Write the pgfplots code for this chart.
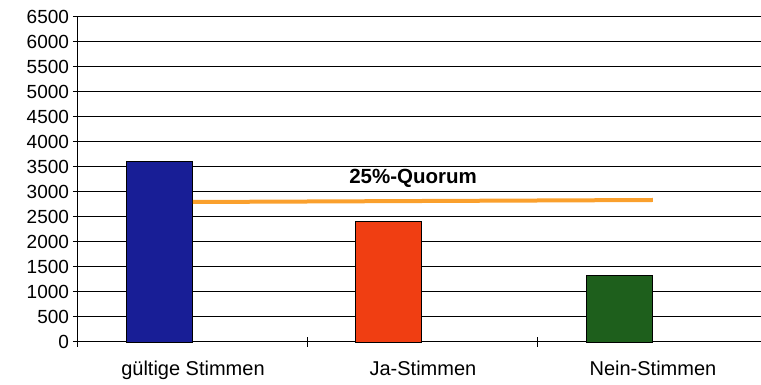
\documentclass[border=0pt]{standalone}
\usepackage{fontspec}
\setmainfont{Liberation Sans}
\usepackage{pgfplots}
\pgfplotsset{compat=1.18}
\definecolor{cblue}{RGB}{24,30,150}
\definecolor{cred}{RGB}{240,62,18}
\definecolor{cgreen}{RGB}{30,95,28}
\definecolor{corange}{RGB}{250,160,45}
\begin{document}
\begin{tikzpicture}
\begin{axis}[
  scale only axis, width=683pt, height=325pt,
  xmin=0, xmax=2.97, ymin=0, ymax=6500,
  axis x line*=bottom, axis y line*=left,
  axis line style={black, line width=1pt},
  ytick={0,500,...,6500},
  scaled y ticks=false,
  /pgf/number format/1000 sep={},
  /pgf/number format/assume math mode=true,
  ymajorgrids, grid style={black, line width=1pt},
  ytick style={black, line width=1pt},
  tick align=outside, major tick length=5pt,
  xtick={0.5,1.5,2.5},
  xticklabels={gültige Stimmen, Ja-Stimmen, Nein-Stimmen},
  x tick style={draw=none},
  extra x ticks={0,1,2},
  extra x tick labels={},
  extra x tick style={tick align=center, major tick length=10pt, x tick style={draw=black, line width=1pt}, xmajorgrids=false},
  yticklabel style={font=\fontsize{19}{22}\selectfont, xshift=-0.5pt},
  xticklabel style={font=\fontsize{20}{24}\selectfont, yshift=-10pt},
  clip=false,
]
\addplot[ybar, bar shift=0pt, bar width=0.287, fill=cblue, draw=black, line width=0.6pt] coordinates {(0.355,3610)};
\addplot[ybar, bar shift=0pt, bar width=0.287, fill=cred, draw=black, line width=0.6pt] coordinates {(1.35,2410)};
\addplot[ybar, bar shift=0pt, bar width=0.287, fill=cgreen, draw=black, line width=0.6pt] coordinates {(2.355,1330)};
\addplot[corange, line width=4pt] coordinates {(0.5,2800) (2.5,2840)};
\node[font=\fontsize{20.5}{24}\selectfont\bfseries] at (axis cs:1.457,3280) {25\%-Quorum};
\end{axis}
\pgfresetboundingbox
\path (current axis.south west) ++(-78pt,-43pt) rectangle ++(761pt,385pt);
\end{tikzpicture}
\end{document}
